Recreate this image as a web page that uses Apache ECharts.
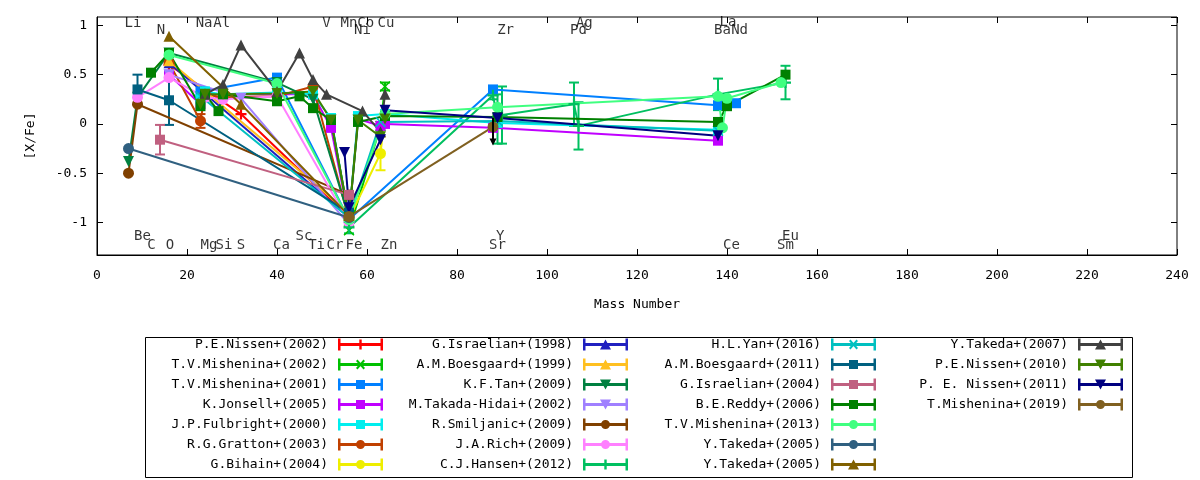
<!DOCTYPE html>
<html>
<head>
<meta charset="utf-8">
<script src="https://cdn.jsdelivr.net/npm/echarts@6/dist/echarts.min.js"></script>
<style>
html, body { margin: 0; background: #fff; }
#chart { width: 1200px; height: 480px; }
</style>
</head>
<body>
<div id="chart"></div>
<script>
// mass number of each element
var mass = {Li: 7, Be: 9, C: 12, N: 14, O: 16, Na: 23, Mg: 24, Al: 27, Si: 28, S: 32,
    Ca: 40, Sc: 45, Ti: 48, V: 51, Cr: 52, Mn: 55, Fe: 56, Ni: 58, Co: 59, Cu: 63, Zn: 64,
    Sr: 88, Y: 89, Zr: 90, Pd: 106, Ag: 107, Ba: 138, La: 139, Ce: 140, Nd: 142, Sm: 152, Eu: 153};

// [element, [X/Fe], error]
var nissen2002 = [['O', 0.6], ['S', 0.1], ['Fe', -0.95]];
var misheninaTV2002 = [['Fe', -1.08], ['Cu', -0.02], ['Zn', 0.38, 0.04]];
var misheninaTV2001 = [['Na', 0.33], ['Ca', 0.47], ['Fe', -0.97], ['Sr', 0.35], ['Ba', 0.19], ['Nd', 0.21]];
var jonsell2005 = [['O', 0.5], ['Na', 0.2], ['Mg', 0.3], ['Si', 0.3], ['Ca', 0.3], ['Ti', 0.3], ['Cr', -0.04], ['Fe', -0.97], ['Ni', 0.05], ['Cu', -0.02], ['Zn', 0.0], ['Sr', -0.04], ['Ba', -0.17]];
var fulbright2000 = [['Na', 0.25], ['Mg', 0.33], ['Si', 0.3], ['Ca', 0.32], ['Ti', 0.3], ['Cr', 0.06], ['Fe', -0.96], ['Ni', 0.08], ['Zn', 0.1], ['Y', 0.01], ['Ba', -0.06]];
var gratton2003 = [['O', 0.62], ['Na', 0.03, 0.07], ['Mg', 0.3], ['Si', 0.27], ['Ca', 0.28], ['Ti', 0.38], ['Fe', -0.97]];
var bihain2004 = [['Fe', -0.96], ['Cu', -0.3, 0.17], ['Zn', 0.1]];
var israelian1998 = [['O', 0.62], ['Fe', -0.95]];
var boesgaard1999 = [['O', 0.64], ['Fe', -0.9]];
var tan2009 = [['Li', -0.38], ['Be', 0.27], ['O', 0.72], ['Ca', 0.42], ['Ti', 0.25], ['Fe', -0.95]];
var takadaHidai2002 = [['O', 0.5], ['S', 0.26], ['Fe', -1.02]];
var smiljanic2009 = [['Li', -0.5], ['Be', 0.2], ['Fe', -0.72]];
var rich2009 = [['Be', 0.27], ['O', 0.47], ['Mg', 0.27], ['Si', 0.25], ['Ca', 0.28], ['Fe', -1.0]];
var hansen2012 = [['Fe', -1.05, 0.06], ['Sr', 0.29, 0.04], ['Y', 0.05, 0.25], ['Zr', 0.09, 0.29], ['Pd', 0.2, 0.22], ['Ag', -0.02, 0.24], ['Ba', 0.3, 0.16], ['Eu', 0.42, 0.17]];
var yan2016 = [['Na', 0.28], ['Fe', -0.95], ['Cu', 0.02], ['Y', 0.03], ['Ba', -0.07]];
var boesgaard2011 = [['Be', 0.35, 0.15], ['O', 0.24, 0.25], ['Fe', -0.9]];
var israelian2004 = [['N', -0.16, 0.15], ['Fe', -0.72]];
var reddy2006 = [['C', 0.52], ['O', 0.72], ['Na', 0.18], ['Mg', 0.3], ['Al', 0.13], ['Si', 0.3], ['Ca', 0.23], ['Sc', 0.28], ['Ti', 0.16], ['Cr', 0.04], ['Fe', -0.95], ['Ni', 0.02], ['Zn', 0.08], ['Y', 0.07], ['Ba', 0.02], ['Ce', 0.18], ['Eu', 0.5]];
var misheninaTV2013 = [['O', 0.7], ['Ca', 0.41], ['Fe', -0.97], ['Zn', 0.1], ['Y', 0.17], ['Ba', 0.28], ['La', -0.04], ['Ce', 0.26], ['Sm', 0.42]];
var takeda2005a = [['Li', -0.25], ['Fe', -0.95]];
var takeda2005b = [['O', 0.89], ['S', 0.2], ['Fe', -0.93]];
var takeda2007 = [['Mg', 0.3], ['Si', 0.4], ['S', 0.8], ['Ca', 0.33], ['Sc', 0.72], ['Ti', 0.45], ['V', 0.3], ['Co', 0.13], ['Cu', -0.08], ['Zn', 0.3]];
var nissen2010 = [['Na', 0.2], ['Mg', 0.3], ['Si', 0.3], ['Ca', 0.31], ['Ti', 0.33], ['Cr', 0.04], ['Fe', -0.95], ['Ni', 0.04], ['Cu', -0.13], ['Zn', 0.05]];
var nissen2011 = [['Mn', -0.29], ['Fe', -0.85], ['Cu', -0.16], ['Zn', 0.14], ['Y', 0.06], ['Ba', -0.12]];
var mishenina2019 = [['Fe', -0.94], ['Sr', -0.03]];

// upper limit arrow: [mass, from, to]
var upperLimit = [[88, 0.06, -0.22]];

// "#2" only keeps the two Takeda 2005 series apart, it is not shown
var refNames = ['P.E.Nissen+(2002)', 'T.V.Mishenina+(2002)', 'T.V.Mishenina+(2001)', 'K.Jonsell+(2005)',
    'J.P.Fulbright+(2000)', 'R.G.Gratton+(2003)', 'G.Bihain+(2004)', 'G.Israelian+(1998)',
    'A.M.Boesgaard+(1999)', 'K.F.Tan+(2009)', 'M.Takada-Hidai+(2002)', 'R.Smiljanic+(2009)',
    'J.A.Rich+(2009)', 'C.J.Hansen+(2012)', 'H.L.Yan+(2016)', 'A.M.Boesgaard+(2011)',
    'G.Israelian+(2004)', 'B.E.Reddy+(2006)', 'T.V.Mishenina+(2013)', 'Y.Takeda+(2005)',
    'Y.Takeda+(2005)#2', 'Y.Takeda+(2007)', 'P.E.Nissen+(2010)', 'P. E. Nissen+(2011)', 'T.Mishenina+(2019)'];
var refData = [nissen2002, misheninaTV2002, misheninaTV2001, jonsell2005, fulbright2000, gratton2003,
    bihain2004, israelian1998, boesgaard1999, tan2009, takadaHidai2002, smiljanic2009, rich2009,
    hansen2012, yan2016, boesgaard2011, israelian2004, reddy2006, misheninaTV2013, takeda2005a,
    takeda2005b, takeda2007, nissen2010, nissen2011, mishenina2019];
var refColors = ['#ff0000', '#00c000', '#0080ff', '#c000ff', '#00eeee', '#c04000', '#eeee00',
    '#2020c0', '#ffc020', '#008040', '#a080ff', '#804000', '#ff80ff', '#00c060', '#00c0c0',
    '#006080', '#c06080', '#008000', '#40ff80', '#306080', '#806000', '#404040', '#408000',
    '#000080', '#806020'];
var refMarks = ['plus', 'cross', 'rect', 'rect', 'rect', 'circle', 'circle', 'tri', 'tri', 'down',
    'down', 'circle', 'circle', 'plus', 'cross', 'rect', 'rect', 'rect', 'circle', 'circle',
    'tri', 'tri', 'down', 'down', 'circle'];

// element labels along top and bottom
var labelNames = ['Li', 'N', 'Na', 'Al', 'V', 'Mn', 'Co', 'Ni', 'Cu', 'Zr', 'Ag', 'Pd', 'La', 'Ba', 'Nd',
    'Be', 'C', 'O', 'Mg', 'Si', 'S', 'Ca', 'Sc', 'Ti', 'Cr', 'Fe', 'Zn', 'Y', 'Sr', 'Ce', 'Eu', 'Sm'];
var labelX = [8, 14.2, 23.8, 27.7, 51, 56, 59.7, 59, 64.2, 90.8, 108.3, 107, 140.2, 139, 142.8,
    10.1, 12.1, 16.2, 24.9, 28.2, 32, 41, 46, 48.8, 52.9, 57.1, 64.9, 89.6, 89, 141, 154.1, 153];
var labelY = [1.02, 0.95, 1.02, 1.02, 1.02, 1.02, 1.02, 0.95, 1.02, 0.95, 1.02, 0.95, 1.03, 0.95, 0.95,
    -1.145, -1.235, -1.235, -1.235, -1.235, -1.235, -1.235, -1.145, -1.235, -1.235, -1.235, -1.235,
    -1.145, -1.235, -1.235, -1.145, -1.235];

var FONT = 'DejaVu Sans Mono';

var plotSymbols = {
    plus: 'path://M4,0h2v10H4z M0,4h10v2H0z',
    cross: 'path://M1,0L5,4L9,0L10,1L6,5L10,9L9,10L5,6L1,10L0,9L4,5L0,1z',
    rect: 'rect',
    circle: 'circle',
    tri: 'triangle',
    down: 'triangle'
};
var iconBase = 'M0,0h2.5v12H0z M42.5,0H45v12h-2.5z M0,4.5h45v3H0z ';
var iconMarks = {
    plus: 'M21.3,1h2.4v10h-2.4z',
    cross: 'M18,2.5L19.5,1L27,9.5L25.5,11z M25.5,1L27,2.5L19.5,11L18,9.5z',
    rect: 'M18,1.5h9v9h-9z',
    circle: 'M18,6a4.5,4.5 0 1,1 9,0a4.5,4.5 0 1,1 -9,0z',
    tri: 'M22.5,1L28,11H17z',
    down: 'M17,1H28L22.5,11z'
};

function errRender(params, api) {
    var x = api.value(0), y = api.value(1), e = api.value(2);
    var hi = api.coord([x, y + e]);
    var lo = api.coord([x, y - e]);
    var c = api.visual('color');
    var w = 5;
    var st = {stroke: c, lineWidth: 2};
    return {
        type: 'group',
        children: [
            {type: 'line', shape: {x1: hi[0], y1: hi[1], x2: lo[0], y2: lo[1]}, style: st},
            {type: 'line', shape: {x1: hi[0] - w, y1: hi[1], x2: hi[0] + w, y2: hi[1]}, style: st},
            {type: 'line', shape: {x1: lo[0] - w, y1: lo[1], x2: lo[0] + w, y2: lo[1]}, style: st}
        ]
    };
}

function arrowRender(params, api) {
    var a = api.coord([api.value(0), api.value(1)]);
    var b = api.coord([api.value(0), api.value(2)]);
    return {
        type: 'group',
        children: [
            {type: 'line', shape: {x1: a[0], y1: a[1], x2: b[0], y2: b[1] - 4}, style: {stroke: '#000', lineWidth: 2}},
            {type: 'polygon', shape: {points: [[b[0] - 3.5, b[1] - 7], [b[0] + 3.5, b[1] - 7], [b[0], b[1]]]}, style: {fill: '#000'}}
        ]
    };
}

var series = [];
for (var i = 0; i < refData.length; i++) {
    var pts = refData[i].map(function (p) { return [mass[p[0]], p[1]]; });
    series.push({
        name: refNames[i],
        type: 'line',
        data: pts,
        color: refColors[i],
        symbol: plotSymbols[refMarks[i]],
        symbolSize: refMarks[i] == 'rect' ? 10 : 11,
        symbolRotate: refMarks[i] == 'down' ? 180 : 0,
        showAllSymbol: true,
        lineStyle: {width: 2},
        emphasis: {disabled: true}
    });
    var errs = refData[i].filter(function (p) { return p[2]; })
        .map(function (p) { return [mass[p[0]], p[1], p[2]]; });
    if (errs.length) {
        series.push({
            name: refNames[i],
            type: 'custom',
            data: errs,
            color: refColors[i],
            renderItem: errRender,
            silent: true
        });
    }
}
series.push({
    type: 'custom',
    data: upperLimit,
    renderItem: arrowRender,
    silent: true,
    z: 5
});
series.push({
    type: 'scatter',
    data: labelNames.map(function (n, k) { return [labelX[k], labelY[k], n]; }),
    symbolSize: 1,
    itemStyle: {color: 'transparent'},
    silent: true,
    label: {
        show: true,
        position: 'inside',
        formatter: function (p) { return p.value[2]; },
        fontFamily: FONT,
        fontSize: 14,
        color: '#000'
    }
});

function makeLegend(names, rightPx) {
    return {
        data: names.map(function (n) {
            var k = refNames.indexOf(n);
            return {name: n, icon: 'path://' + iconBase + iconMarks[refMarks[k]]};
        }),
        formatter: function (name) { return name.replace('#2', ''); },
        orient: 'vertical',
        align: 'right',
        right: rightPx,
        top: 338,
        padding: 0,
        itemWidth: 45,
        itemHeight: 12,
        itemGap: 7,
        selectedMode: false,
        textStyle: {fontFamily: FONT, fontSize: 13, color: '#000', padding: [0, 5, 0, 0]}
    };
}

var axisFont = {fontFamily: FONT, fontSize: 13, color: '#000'};
var myChart = echarts.init(document.getElementById('chart'));
var option = {
    animation: false,
    backgroundColor: '#fff',
    grid: {left: 97, right: 23, top: 17, bottom: 225, show: true, borderColor: '#000', borderWidth: 1},
    xAxis: [{
        type: 'value', min: 0, max: 240, interval: 20,
        name: 'Mass Number', nameLocation: 'middle', nameGap: 43,
        nameTextStyle: axisFont,
        axisLine: {onZero: false, lineStyle: {color: '#000'}},
        axisTick: {inside: true, length: 6, lineStyle: {color: '#000'}},
        axisLabel: Object.assign({margin: 14}, axisFont),
        splitLine: {show: false}
    }, {
        type: 'value', position: 'top', min: 0, max: 240, interval: 20,
        axisLine: {show: false, onZero: false},
        axisTick: {inside: true, length: 6, lineStyle: {color: '#000'}},
        axisLabel: {show: false},
        splitLine: {show: false}
    }],
    yAxis: [{
        type: 'value', min: -1.33, max: 1.085, splitNumber: 5,
        name: '[X/Fe]', nameLocation: 'middle', nameGap: 60, nameRotate: 90,
        nameTextStyle: axisFont,
        axisLine: {onZero: false, lineStyle: {color: '#000'}},
        axisTick: {inside: true, length: 6, lineStyle: {color: '#000'}},
        axisLabel: Object.assign({margin: 10, showMinLabel: false, showMaxLabel: false}, axisFont),
        splitLine: {show: false}
    }, {
        type: 'value', position: 'right', min: -1.33, max: 1.085, splitNumber: 5,
        axisLine: {show: false, onZero: false},
        axisTick: {inside: true, length: 6, lineStyle: {color: '#000'}},
        axisLabel: {show: false},
        splitLine: {show: false}
    }],
    legend: [
        makeLegend(refNames.slice(0, 7), 817),
        makeLegend(refNames.slice(7, 14), 572),
        makeLegend(refNames.slice(14, 21), 324),
        makeLegend(refNames.slice(21, 25), 77)
    ],
    graphic: [{
        type: 'rect', left: 143, top: 335,
        shape: {width: 987, height: 140},
        style: {fill: 'none', stroke: '#000', lineWidth: 1}
    }],
    series: series
};
myChart.setOption(option);
</script>
</body>
</html>
